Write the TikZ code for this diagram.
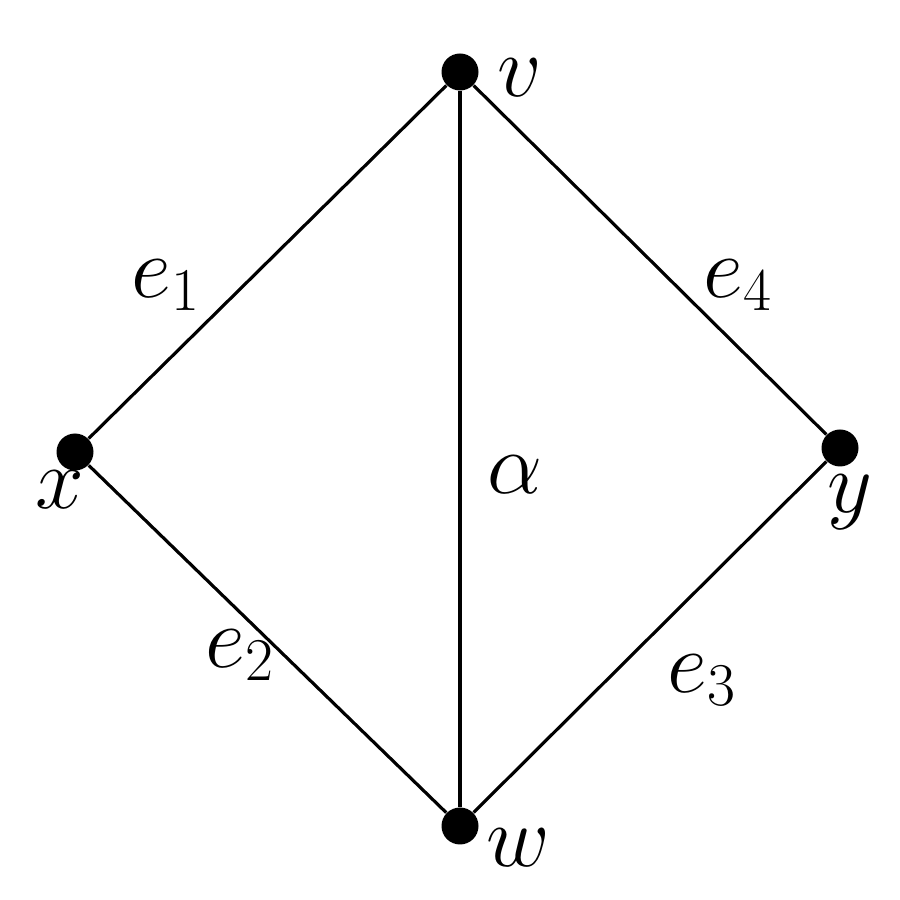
\documentclass[tikz,border=0pt]{standalone}
\usetikzlibrary{positioning}
\tikzset{
  vertex/.style={circle, fill, inner sep=0pt, minimum size=0.37cm},
  lbl/.style={font=\fontsize{27}{30}\selectfont},
  edge/.style={line width=0.9pt}
}
\begin{document}
\begin{tikzpicture}
\useasboundingbox (0,0) rectangle (9,9);
% vertices
\node[vertex] (v) at (4.6,8.28) {};
\node[vertex] (x) at (0.75,4.48) {};
\node[vertex] (y) at (8.4,4.52) {};
\node[vertex] (w) at (4.6,0.74) {};
% edges
\draw[edge] (x) -- (v) -- (y) -- (w) -- (x);
\draw[edge] (v) -- (w);
% vertex labels
\node[lbl] (lv) at (5.2,8.22) {$v$};
\node[lbl] (lx) at (0.6,4.1) {$x$};
\node[lbl] (ly) at (8.5,3.98) {$y$};
\node[lbl] (lw) at (5.18,0.52) {$w$};
% edge labels
\node[lbl] (le1) at (1.66,6.15) {$e_1$};
\node[lbl] (le4) at (7.38,6.15) {$e_4$};
\node[lbl] (le2) at (2.4,2.45) {$e_2$};
\node[lbl] (le3) at (7.02,2.2) {$e_3$};
\node[lbl] (la) at (5.15,4.25) {$\alpha$};
\end{tikzpicture}
\end{document}
